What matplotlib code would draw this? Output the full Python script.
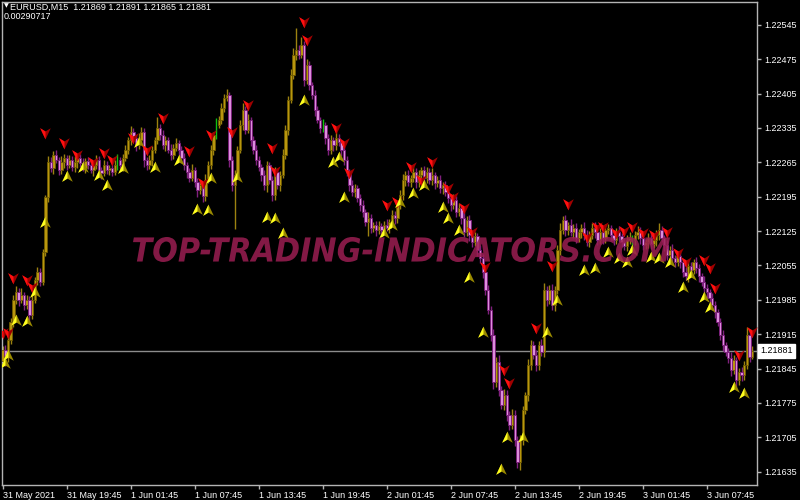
"""MT4-style EURUSD M15 chart with buy/sell arrow signals."""
import numpy as np
import matplotlib
matplotlib.use("Agg")
import matplotlib.pyplot as plt
from matplotlib.patches import PathPatch
from matplotlib.textpath import TextPath
from matplotlib.font_manager import FontProperties
from matplotlib.transforms import Affine2D, IdentityTransform, blended_transform_factory

plt.rcParams["font.family"] = ["Liberation Sans", "DejaVu Sans"]

# ---- data ------------------------------------------------------------------
symbol = "EURUSD,M15"
indicator_value = "0.00290717"
first_open = 1.21860
closes = [
    1.21883, 1.21871, 1.21903, 1.21940, 1.21985, 1.22001, 1.21985, 1.21995, 1.21975, 1.21985,
    1.21954, 1.21985, 1.22026, 1.22042, 1.22021, 1.22083, 1.22195, 1.22266, 1.22254, 1.22280,
    1.22270, 1.22250, 1.22266, 1.22274, 1.22260, 1.22270, 1.22256, 1.22266, 1.22274, 1.22264,
    1.22254, 1.22268, 1.22260, 1.22250, 1.22260, 1.22270, 1.22250, 1.22244, 1.22260, 1.22250,
    1.22254, 1.22246, 1.22260, 1.22270, 1.22260, 1.22274, 1.22290, 1.22311, 1.22327, 1.22315,
    1.22301, 1.22311, 1.22327, 1.22270, 1.22260, 1.22270, 1.22290, 1.22311, 1.22335, 1.22321,
    1.22301, 1.22311, 1.22290, 1.22280, 1.22294, 1.22305, 1.22290, 1.22274, 1.22260, 1.22246,
    1.22233, 1.22250, 1.22225, 1.22209, 1.22219, 1.22197, 1.22229, 1.22260, 1.22290, 1.22321,
    1.22341, 1.22352, 1.22376, 1.22396, 1.22402, 1.22270, 1.22219, 1.22239, 1.22290, 1.22341,
    1.22372, 1.22331, 1.22352, 1.22311, 1.22290, 1.22270, 1.22256, 1.22239, 1.22219, 1.22260,
    1.22229, 1.22199, 1.22246, 1.22219, 1.22239, 1.22280, 1.22331, 1.22392, 1.22443, 1.22484,
    1.22494, 1.22484, 1.22504, 1.22433, 1.22464, 1.22423, 1.22402, 1.22372, 1.22352, 1.22335,
    1.22341, 1.22315, 1.22290, 1.22311, 1.22301, 1.22315, 1.22307, 1.22290, 1.22270, 1.22246,
    1.22219, 1.22205, 1.22213, 1.22193, 1.22178, 1.22164, 1.22144, 1.22152, 1.22131, 1.22138,
    1.22127, 1.22136, 1.22127, 1.22138, 1.22131, 1.22144, 1.22158, 1.22152, 1.22178, 1.22199,
    1.22229, 1.22239, 1.22225, 1.22233, 1.22246, 1.22225, 1.22239, 1.22250, 1.22233, 1.22246,
    1.22229, 1.22239, 1.22223, 1.22229, 1.22213, 1.22219, 1.22205, 1.22193, 1.22178, 1.22189,
    1.22164, 1.22172, 1.22152, 1.22123, 1.22148, 1.22117, 1.22103, 1.22115, 1.22087, 1.22070,
    1.22042, 1.22005, 1.21964, 1.21914, 1.21818, 1.21858, 1.21801, 1.21771, 1.21791, 1.21751,
    1.21730, 1.21751, 1.21700, 1.21655, 1.21700, 1.21761, 1.21791, 1.21852, 1.21893, 1.21873,
    1.21852, 1.21893, 1.21879, 1.22005, 1.21985, 1.22005, 1.21975, 1.22005, 1.22087, 1.22127,
    1.22148, 1.22127, 1.22138, 1.22123, 1.22131, 1.22111, 1.22123, 1.22131, 1.22117, 1.22103,
    1.22117, 1.22131, 1.22123, 1.22107, 1.22123, 1.22111, 1.22127, 1.22131, 1.22117, 1.22107,
    1.22123, 1.22115, 1.22103, 1.22095, 1.22107, 1.22111, 1.22107, 1.22117, 1.22123, 1.22111,
    1.22097, 1.22103, 1.22111, 1.22099, 1.22107, 1.22117, 1.22127, 1.22111, 1.22097, 1.22076,
    1.22087, 1.22070, 1.22062, 1.22074, 1.22062, 1.22042, 1.22034, 1.22054, 1.22046, 1.22062,
    1.22050, 1.22034, 1.22021, 1.22009, 1.22001, 1.21989, 1.21975, 1.21960, 1.21940, 1.21914,
    1.21893, 1.21879, 1.21867, 1.21842, 1.21863, 1.21822, 1.21838, 1.21832, 1.21852, 1.21914,
    1.21869, 1.21881,
]
# wick lengths beyond the body, in points (1 point = 0.00001)
wick_up = [
    8, 10, 12, 8, 10, 12, 8, 14, 6, 10, 8, 12, 6, 10, 8, 6, 4, 12, 10, 8,
    10, 6, 12, 8, 6, 10, 8, 12, 6, 8, 10, 6, 8, 12, 6, 10, 8, 6, 10, 8,
    6, 8, 10, 12, 6, 8, 10, 6, 12, 8, 6, 14, 10, 8, 6, 10, 8, 6, 22, 8,
    10, 8, 6, 12, 8, 10, 6, 8, 10, 6, 8, 12, 6, 8, 10, 6, 12, 8, 10, 6,
    14, 8, 10, 8, 12, 6, 8, 10, 8, 10, 14, 8, 12, 6, 8, 10, 8, 6, 10, 8,
    6, 8, 10, 6, 8, 12, 10, 8, 12, 14, 44, 10, 16, 8, 12, 8, 6, 10, 8, 6,
    12, 6, 8, 10, 6, 12, 8, 6, 10, 8, 6, 10, 8, 6, 8, 10, 6, 12, 8, 6,
    8, 10, 6, 8, 12, 6, 10, 8, 6, 10, 12, 8, 10, 6, 12, 8, 10, 6, 8, 10,
    8, 14, 6, 8, 10, 6, 8, 10, 6, 12, 8, 10, 6, 12, 8, 10, 6, 8, 6, 10,
    8, 6, 10, 8, 12, 10, 14, 8, 12, 10, 8, 12, 10, 8, 10, 8, 6, 12, 10, 8,
    10, 8, 12, 14, 8, 10, 12, 8, 10, 14, 8, 10, 6, 12, 8, 10, 6, 8, 12, 10,
    8, 10, 12, 6, 8, 10, 12, 8, 6, 10, 8, 12, 6, 8, 10, 12, 6, 8, 12, 10,
    8, 6, 10, 12, 8, 10, 14, 8, 6, 10, 8, 12, 6, 10, 8, 6, 10, 12, 8, 6,
    10, 8, 6, 12, 8, 6, 10, 8, 6, 8, 10, 6, 8, 12, 10, 6, 8, 10, 8, 16,
    8, 10,
]
wick_dn = [
    10, 20, 12, 8, 10, 8, 12, 6, 10, 8, 14, 8, 6, 10, 8, 6, 8, 10, 8, 12,
    6, 10, 8, 12, 10, 6, 8, 10, 12, 8, 6, 10, 8, 6, 12, 8, 10, 12, 6, 8,
    10, 8, 6, 10, 8, 12, 6, 8, 10, 6, 12, 8, 6, 14, 10, 8, 12, 6, 8, 10,
    8, 12, 6, 10, 8, 6, 12, 8, 10, 12, 8, 6, 10, 14, 8, 12, 10, 6, 8, 10,
    8, 6, 10, 8, 6, 14, 12, 90, 8, 6, 10, 8, 6, 12, 8, 10, 8, 12, 10, 14,
    8, 12, 10, 8, 12, 6, 8, 10, 6, 8, 10, 8, 6, 12, 8, 10, 8, 12, 6, 10,
    8, 12, 10, 8, 12, 10, 8, 12, 10, 8, 12, 8, 10, 8, 12, 10, 8, 30, 10, 8,
    12, 8, 10, 8, 6, 10, 8, 12, 10, 8, 10, 12, 8, 10, 8, 12, 10, 8, 12, 10,
    8, 10, 12, 8, 10, 12, 8, 10, 12, 8, 10, 8, 12, 10, 8, 12, 10, 8, 12, 10,
    12, 10, 8, 12, 14, 10, 12, 8, 10, 12, 10, 8, 12, 12, 16, 10, 8, 12, 10, 8,
    12, 10, 8, 10, 12, 8, 10, 12, 8, 10, 8, 12, 10, 8, 12, 10, 8, 12, 10, 8,
    10, 8, 12, 10, 8, 12, 10, 8, 12, 10, 8, 12, 10, 8, 10, 8, 12, 10, 8, 12,
    10, 8, 12, 10, 8, 12, 10, 8, 12, 10, 8, 12, 10, 8, 12, 10, 8, 12, 10, 8,
    10, 12, 8, 10, 12, 8, 10, 12, 8, 10, 12, 8, 10, 12, 8, 14, 10, 12, 10, 8,
    10, 4,
]
green_bars = [43, 80, 120, 236]

sell_bars = [0, 2, 4, 9, 11, 16, 23, 28, 34, 38, 41, 49, 54, 60, 70, 75, 78, 86, 92, 101,
             102, 113, 114, 125, 128, 130, 144, 148, 153, 157, 161, 167, 169, 173, 176, 181,
             188, 190, 200, 206, 212, 219, 223, 225, 230, 233, 236, 240, 244, 249, 253, 256,
             263, 265, 267, 276, 281]
sell_px = [1.21918, 1.21918, 1.22030, 1.22026, 1.22011, 1.22325, 1.22305, 1.22280, 1.22266,
           1.22284, 1.22270, 1.22315, 1.22290, 1.22356, 1.22288, 1.22223, 1.22321, 1.22327,
           1.22382, 1.22294, 1.22248, 1.22551, 1.22515, 1.22335, 1.22305, 1.22244, 1.22178,
           1.22185, 1.22256, 1.22229, 1.22266, 1.22213, 1.22195, 1.22172, 1.22123, 1.22052,
           1.21842, 1.21816, 1.21928, 1.22054, 1.22180, 1.22113, 1.22134, 1.22134, 1.22121,
           1.22125, 1.22134, 1.22121, 1.22117, 1.22123, 1.22081, 1.22062, 1.22066, 1.22050,
           1.22009, 1.21873, 1.21920]
buy_bars = [1, 2, 5, 9, 12, 16, 24, 30, 36, 39, 45, 51, 57, 66, 73, 77, 78, 88, 99, 102,
            105, 113, 124, 126, 128, 143, 146, 149, 154, 158, 165, 167, 171, 175, 180, 187,
            189, 195, 204, 208, 218, 222, 227, 231, 234, 236, 243, 246, 250, 255, 258, 263,
            265, 274, 278]
buy_px = [1.21857, 1.21873, 1.21944, 1.21942, 1.22001, 1.22144, 1.22237, 1.22256, 1.22239,
          1.22219, 1.22254, 1.22307, 1.22256, 1.22270, 1.22170, 1.22168, 1.22233, 1.22235,
          1.22154, 1.22152, 1.22121, 1.22392, 1.22266, 1.22276, 1.22195, 1.22121, 1.22138,
          1.22185, 1.22203, 1.22219, 1.22174, 1.22152, 1.22127, 1.22032, 1.21920, 1.21640,
          1.21706, 1.21706, 1.21920, 1.21985, 1.22046, 1.22050, 1.22083, 1.22070, 1.22062,
          1.22087, 1.22072, 1.22070, 1.22062, 1.22011, 1.22036, 1.21991, 1.21971, 1.21808,
          1.21795]

price_ticks = [1.21635, 1.21705, 1.21775, 1.21845, 1.21915, 1.21985, 1.22055,
               1.22125, 1.22195, 1.22265, 1.22335, 1.22405, 1.22475, 1.22545]
time_labels = ["31 May 2021", "31 May 19:45", "1 Jun 01:45", "1 Jun 07:45", "1 Jun 13:45",
               "1 Jun 19:45", "2 Jun 01:45", "2 Jun 07:45", "2 Jun 13:45", "2 Jun 19:45",
               "3 Jun 01:45", "3 Jun 07:45"]
bars_per_label = 24
watermark = "TOP-TRADING-INDICATORS.COM"

# ---- colours -----------------------------------------------------------------
BG = "black"
FRAME = "#b4b4b4"
BULL, BULL_EDGE, BULL_WICK = "#b8960e", "#6e5a00", "#9c8210"
BEAR, BEAR_EDGE, BEAR_WICK = "#dc8edc", "#7a1a7a", "#80207e"
GREEN = "#10c010"

# ---- OHLC --------------------------------------------------------------------
pt = 1e-5
c = np.array(closes)
o = np.r_[first_open, c[:-1]]
h = np.maximum(o, c) + np.array(wick_up) * pt
l = np.minimum(o, c) - np.array(wick_dn) * pt
x = np.arange(len(c))
up = c >= o
grn = np.isin(x, green_bars)
bull = up & ~grn
bear = ~up & ~grn

fig = plt.figure(figsize=(8, 5), dpi=100, facecolor=BG)
ax = fig.add_axes([2 / 800, 15 / 500, 755 / 800, 483.3 / 500])
ax.set_facecolor(BG)

ax.vlines(x[bull], l[bull], h[bull], color=BULL_WICK, lw=1, zorder=2)
ax.vlines(x[bear], l[bear], h[bear], color=BEAR_WICK, lw=1, zorder=2)
ax.vlines(x[grn], l[grn], h[grn], color=GREEN, lw=1, zorder=2)
body = np.maximum(np.abs(c - o), 0.4 * pt)
ax.bar(x[bull], body[bull], bottom=o[bull], width=0.9, color=BULL,
       edgecolor=BULL_EDGE, lw=0.6, zorder=3)
ax.bar(x[bear], body[bear], bottom=c[bear], width=0.9, color=BEAR,
       edgecolor=BEAR_EDGE, lw=0.6, zorder=3)

# current price line
ax.axhline(c[-1], color="#8c8c8c", lw=1, zorder=1)

# signal arrows: dark full arrowhead + bright left half
up_full = [(0, 1), (0.9, -0.9), (0, -0.35), (-0.9, -0.9), (0, 1)]
up_half = [(0, 1), (0, -0.35), (-0.9, -0.9), (0, 1)]
dn_full = [(vx, -vy) for vx, vy in up_full]
dn_half = [(vx, -vy) for vx, vy in up_half]
ax.scatter(sell_bars, sell_px, marker=dn_full, s=72, color="#a00000", lw=0, zorder=5)
ax.scatter(sell_bars, sell_px, marker=dn_half, s=72, color="#ff1010", lw=0, zorder=6)
ax.scatter(buy_bars, buy_px, marker=up_full, s=72, color="#9a8a00", lw=0, zorder=5)
ax.scatter(buy_bars, buy_px, marker=up_half, s=72, color="#ffff20", lw=0, zorder=6)

ax.set_xlim(-0.26, 282.8)
ax.set_ylim(1.21608, 1.22592)

# axes, ticks
for s in ax.spines.values():
    s.set_color(FRAME)
    s.set_linewidth(1)
ax.yaxis.tick_right()
ax.set_yticks(price_ticks)
ax.set_yticklabels([f"{v:.5f}" for v in price_ticks])
ax.set_xticks(np.arange(len(time_labels)) * bars_per_label)
ax.set_xticklabels(time_labels, ha="left")
ax.tick_params(axis="both", colors=FRAME, labelcolor="white", labelsize=6.5,
               length=3, width=1, pad=2)
ax.tick_params(axis="x", pad=1)

# last price box on the right scale
tr = blended_transform_factory(ax.transAxes, ax.transData)
ax.text(1.004, c[-1], f"{c[-1]:.5f}", transform=tr, ha="left", va="center",
        fontsize=6.5, color="black", zorder=10, clip_on=False,
        bbox=dict(boxstyle="square,pad=0.25", fc="white", ec="white"))

# header
fig.text(4 / 800, 1 - 3 / 500, "\u25bc", fontsize=4.5, color="white", va="top",
         family=["DejaVu Sans"])
fig.text(10 / 800, 1 - 3 / 500,
         f"{symbol}  {o[-1]:.5f} {h[-1]:.5f} {l[-1]:.5f} {c[-1]:.5f}",
         fontsize=6.5, color="white", va="top")
fig.text(4 / 800, 1 - 12 / 500, indicator_value, fontsize=6.5, color="white", va="top")

# watermark, stretched to its box in pixels
fp = FontProperties(family="DejaVu Sans", weight="bold", style="italic")
tp = TextPath((0, 0), watermark, size=40, prop=fp)
bb = tp.get_extents()
fit = (Affine2D().translate(-bb.x0, -bb.y0)
       .scale(537 / bb.width, 25 / bb.height).translate(133, 500 - 262))
fig.add_artist(PathPatch(fit.transform_path(tp), transform=IdentityTransform(),
                         fc="#9b1e52", ec="none", alpha=0.85, zorder=20))

fig.savefig("out.png", dpi=100, facecolor=BG)
